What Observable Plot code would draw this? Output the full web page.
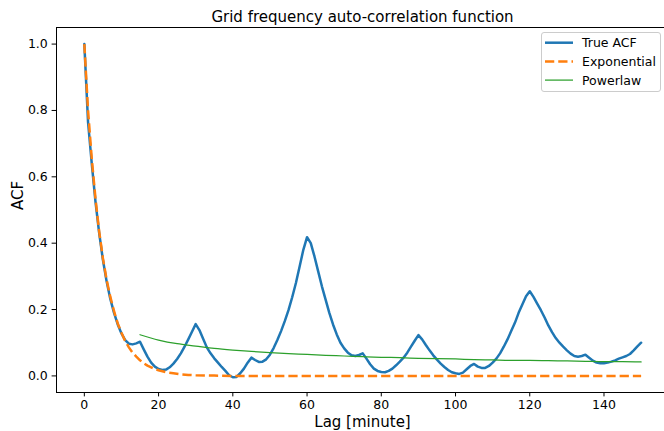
<!DOCTYPE html>
<html><head><meta charset="utf-8">
<script src="https://cdn.jsdelivr.net/npm/d3@7"></script>
<script src="https://cdn.jsdelivr.net/npm/@observablehq/plot@0.6"></script>
<style>
body{margin:0;background:#fff;}
#wrap{position:relative;width:664px;height:431px;overflow:hidden;font-family:"DejaVu Sans",sans-serif;}
#legend{position:absolute;left:541px;top:32px;width:120px;height:60px;border:1px solid #cccccc;border-radius:3px;background:rgba(255,255,255,0.8);box-sizing:border-box;}
</style></head><body><div id="wrap"></div>
<script>
const titleText = "Grid frequency auto-correlation function";
const xLabel = "Lag [minute]";
const yLabel = "ACF";
const seriesNames = ["True ACF", "Exponential", "Powerlaw"];
const seriesColors = ["#1f77b4", "#ff7f0e", "#2ca02c"];
const xTicks = [0, 20, 40, 60, 80, 100, 120, 140];
const yTicks = [0.0, 0.2, 0.4, 0.6, 0.8, 1.0];

// True ACF, one value per lag (minute 0..150)
const acfValues = [
 1.000,0.765,0.640,0.525,0.430,0.350,0.285,0.232,0.190,0.155,
 0.128,0.108,0.097,0.095,0.098,0.103,0.080,0.058,0.040,0.028,
 0.021,0.018,0.019,0.026,0.037,0.051,0.068,0.088,0.110,0.133,
 0.156,0.138,0.112,0.086,0.068,0.053,0.040,0.027,0.015,0.002,
 -0.004,-0.003,0.008,0.022,0.040,0.055,0.048,0.042,0.043,0.050,
 0.064,0.084,0.108,0.135,0.165,0.198,0.237,0.280,0.330,0.380,
 0.418,0.400,0.360,0.315,0.270,0.230,0.190,0.155,0.125,0.100,
 0.083,0.070,0.062,0.060,0.063,0.068,0.052,0.035,0.022,0.015,
 0.012,0.011,0.015,0.022,0.032,0.043,0.055,0.070,0.088,0.106,
 0.123,0.110,0.093,0.077,0.062,0.049,0.037,0.027,0.018,0.011,
 0.008,0.006,0.010,0.020,0.030,0.036,0.028,0.024,0.024,0.030,
 0.040,0.052,0.068,0.088,0.110,0.135,0.160,0.190,0.215,0.240,
 0.255,0.238,0.218,0.198,0.176,0.152,0.132,0.114,0.100,0.088,
 0.077,0.067,0.060,0.058,0.060,0.064,0.055,0.046,0.040,0.038,
 0.038,0.040,0.043,0.047,0.052,0.056,0.060,0.066,0.077,0.089,
 0.100
];

const expLags = [0,1,2,3,4,5,6,7,8,9,10,11,12,13,14,15,16,17,18,19,20,22,24,26,28,30,35,40,50,60,70,80,90,100,110,120,130,140,150];
const expValues = [1.000,0.800,0.655,0.535,0.435,0.355,0.290,0.238,0.195,0.158,0.130,0.105,0.086,0.070,0.058,0.047,0.038,0.031,0.026,0.021,0.017,0.011,0.008,0.005,0.003,0.002,0.001,0,0,0,0,0,0,0,0,0,0,0,0];

const powLags = [15,20,25,30,35,40,45,50,55,60,65,70,75,80,85,90,95,100,105,110,115,120,125,130,135,140,145,150];
const powValues = [0.124,0.108,0.097,0.090,0.083,0.078,0.074,0.070,0.067,0.065,0.062,0.060,0.058,0.056,0.055,0.053,0.052,0.051,0.049,0.048,0.047,0.047,0.046,0.045,0.044,0.043,0.043,0.042];

const acf = acfValues.map((v, i) => ({lag: i, v}));
const expo = expLags.map((l, i) => ({lag: l, v: expValues[i]}));
const pow = powLags.map((l, i) => ({lag: l, v: powValues[i]}));

const xDomain = [-7.5, 156.3];
const yDomain = [-0.05, 1.05];

const chart = Plot.plot({
  width: 664, height: 431,
  marginLeft: 56, marginRight: 0, marginTop: 27, marginBottom: 39,
  x: {domain: xDomain},
  y: {domain: yDomain},
  style: {fontFamily: "DejaVu Sans", fontSize: "12.5px", background: "#fff", color: "#000"},
  marks: [
    Plot.axisX(xTicks, {tickSize: 4.4, tickPadding: 3.5, fontSize: 12.5, tickFormat: d => String(d), label: null}),
    Plot.axisY(yTicks, {tickSize: 4.4, tickPadding: 4.3, fontSize: 12.5, tickFormat: d => d.toFixed(1), label: null}),
    Plot.ruleY([yDomain[0], yDomain[1]], {stroke: "#000", strokeWidth: 1}),
    Plot.ruleX([xDomain[0]], {stroke: "#000", strokeWidth: 1}),
    Plot.line(acf, {x: "lag", y: "v", stroke: seriesColors[0], strokeWidth: 2.5}),
    Plot.line(expo, {x: "lag", y: "v", stroke: seriesColors[1], strokeWidth: 2.5, strokeDasharray: "9.25,4", strokeLinecap: "butt"}),
    Plot.line(pow, {x: "lag", y: "v", stroke: seriesColors[2], strokeWidth: 1.25, curve: "monotone-x"}),
    Plot.text([titleText], {text: d => d, frameAnchor: "top", lineAnchor: "middle", dy: -10.3, dx: 2, fontSize: 15}),
    Plot.text([xLabel], {text: d => d, frameAnchor: "bottom", lineAnchor: "middle", dy: 29.2, dx: 2, fontSize: 15}),
    Plot.text([yLabel], {text: d => d, frameAnchor: "left", lineAnchor: "middle", dx: -38.8, rotate: -90, fontSize: 15})
  ]
});
const wrap = document.getElementById("wrap");
wrap.appendChild(chart);

// legend
const leg = d3.select(wrap).append("div").attr("id", "legend");
const lsvg = leg.append("svg").attr("width", 118).attr("height", 58).style("display", "block");
const dashes = [null, "9.25,4", null];
const widths = [2.5, 2.5, 1.25];
seriesNames.forEach((name, i) => {
  const cy = 9.7 + i * 18.7;
  lsvg.append("line").attr("x1", 3).attr("x2", 31).attr("y1", cy).attr("y2", cy)
    .attr("stroke", seriesColors[i]).attr("stroke-width", widths[i])
    .attr("stroke-dasharray", dashes[i]);
  lsvg.append("text").attr("x", 40).attr("y", cy + 4.5)
    .attr("font-family", "DejaVu Sans").attr("font-size", 12.5).attr("fill", "#000")
    .text(name);
});
</script>
</body></html>
